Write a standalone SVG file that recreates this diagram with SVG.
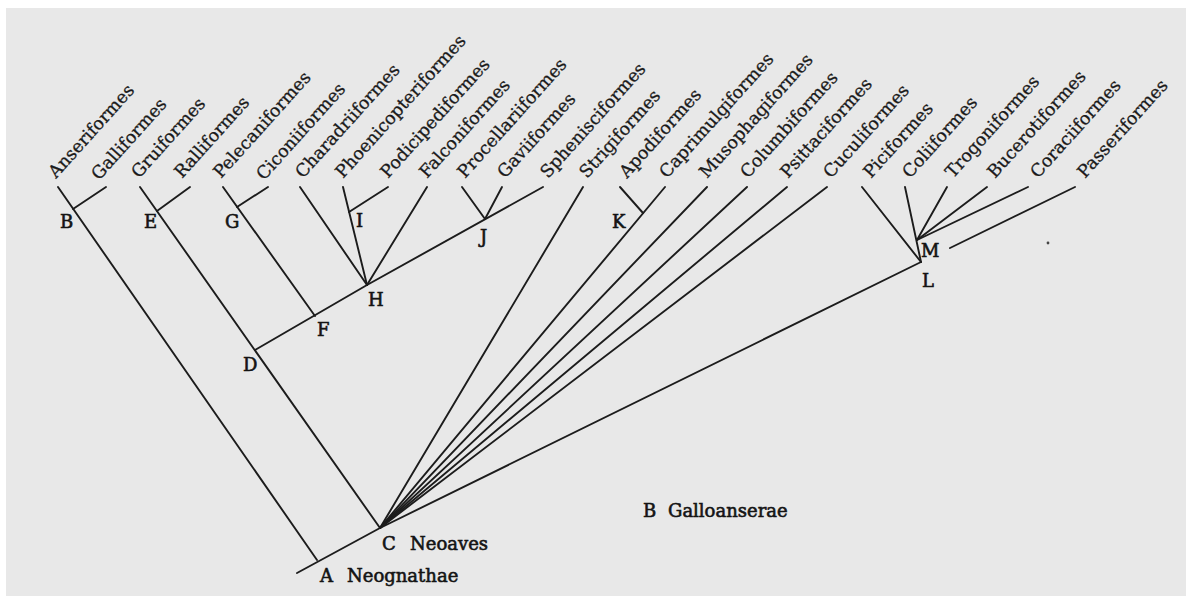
<svg xmlns="http://www.w3.org/2000/svg" width="1198" height="597" viewBox="0 0 1198 597">
<style>
.bg{fill:#e8e8e8}
.ln{stroke:#1c1c1c;stroke-width:1.9;fill:none;stroke-linecap:round}
.tx{font-family:"DejaVu Serif","Liberation Serif",serif;font-size:17.5px;fill:#1a1a1a;stroke:#1a1a1a;stroke-width:0.3}
.nd{font-family:"DejaVu Serif","Liberation Serif",serif;font-size:18px;fill:#141414;stroke:#141414;stroke-width:0.6}
</style>
<rect width="1198" height="597" fill="#ffffff"/>
<rect class="bg" x="6" y="8" width="1180" height="588"/>
<g id="connectors">
<line class="ln" x1="58" y1="187" x2="317" y2="560"/>
<line class="ln" x1="106" y1="187" x2="73" y2="209"/>
<line class="ln" x1="140" y1="187" x2="380" y2="528"/>
<line class="ln" x1="190" y1="187" x2="157" y2="211"/>
<line class="ln" x1="223" y1="187" x2="315" y2="316"/>
<line class="ln" x1="268" y1="187" x2="237" y2="207"/>
<line class="ln" x1="255" y1="350" x2="367" y2="285"/>
<line class="ln" x1="300" y1="187" x2="367" y2="285"/>
<line class="ln" x1="343" y1="187" x2="367" y2="285"/>
<line class="ln" x1="388" y1="187" x2="349" y2="212"/>
<line class="ln" x1="427" y1="187" x2="367" y2="285"/>
<line class="ln" x1="367" y1="285" x2="543" y2="187"/>
<line class="ln" x1="462" y1="187" x2="485" y2="219"/>
<line class="ln" x1="502" y1="187" x2="485" y2="219"/>
<line class="ln" x1="583" y1="187" x2="380" y2="528"/>
<line class="ln" x1="620" y1="187" x2="643" y2="213"/>
<line class="ln" x1="665" y1="187" x2="380" y2="528"/>
<line class="ln" x1="707" y1="187" x2="380" y2="528"/>
<line class="ln" x1="747" y1="187" x2="380" y2="528"/>
<line class="ln" x1="787" y1="187" x2="380" y2="528"/>
<line class="ln" x1="827" y1="187" x2="380" y2="528"/>
<line class="ln" x1="921" y1="262" x2="380" y2="528"/>
<line class="ln" x1="862" y1="187" x2="921" y2="262"/>
<line class="ln" x1="905" y1="187" x2="921" y2="262"/>
<line class="ln" x1="947" y1="187" x2="917" y2="240"/>
<line class="ln" x1="987" y1="187" x2="917" y2="240"/>
<line class="ln" x1="1028" y1="187" x2="917" y2="240"/>
<line class="ln" x1="1075" y1="187" x2="950" y2="248"/>
<line class="ln" x1="297" y1="573" x2="380" y2="528"/>
<circle cx="1048" cy="243" r="1.4" fill="#444"/>
</g>
<g id="taxa">
<g id="t-anseriformes"><text class="tx" transform="translate(56,179) rotate(-48)">Anseriformes</text></g>
<g id="t-galliformes"><text class="tx" transform="translate(99,181) rotate(-48)">Galliformes</text></g>
<g id="t-gruiformes"><text class="tx" transform="translate(139,179) rotate(-48)">Gruiformes</text></g>
<g id="t-ralliformes"><text class="tx" transform="translate(182,179) rotate(-48)">Ralliformes</text></g>
<g id="t-pelecaniformes"><text class="tx" transform="translate(221,179) rotate(-48)">Pelecaniformes</text></g>
<g id="t-ciconiiformes"><text class="tx" transform="translate(264,181) rotate(-48)">Ciconiiformes</text></g>
<g id="t-charadriiformes"><text class="tx" transform="translate(303,179) rotate(-48)">Charadriiformes</text></g>
<g id="t-phoenicopteriformes"><text class="tx" transform="translate(343,179) rotate(-48)">Phoenicopteriformes</text></g>
<g id="t-podicipediformes"><text class="tx" transform="translate(388,179) rotate(-48)">Podicipediformes</text></g>
<g id="t-falconiformes"><text class="tx" transform="translate(427,179) rotate(-48)">Falconiformes</text></g>
<g id="t-procellariiformes"><text class="tx" transform="translate(465,179) rotate(-48)">Procellariiformes</text></g>
<g id="t-gaviiformes"><text class="tx" transform="translate(505,179) rotate(-48)">Gaviiformes</text></g>
<g id="t-sphenisciformes"><text class="tx" transform="translate(548,179) rotate(-48)">Sphenisciformes</text></g>
<g id="t-strigiformes"><text class="tx" transform="translate(587,179) rotate(-48)">Strigiformes</text></g>
<g id="t-apodiformes"><text class="tx" transform="translate(627,179) rotate(-48)">Apodiformes</text></g>
<g id="t-caprimulgiformes"><text class="tx" transform="translate(667,179) rotate(-48)">Caprimulgiformes</text></g>
<g id="t-musophagiformes"><text class="tx" transform="translate(707,179) rotate(-48)">Musophagiformes</text></g>
<g id="t-columbiformes"><text class="tx" transform="translate(748,179) rotate(-48)">Columbiformes</text></g>
<g id="t-psittaciformes"><text class="tx" transform="translate(788,179) rotate(-48)">Psittaciformes</text></g>
<g id="t-cuculiformes"><text class="tx" transform="translate(831,179) rotate(-48)">Cuculiformes</text></g>
<g id="t-piciformes"><text class="tx" transform="translate(871,179) rotate(-48)">Piciformes</text></g>
<g id="t-coliiformes"><text class="tx" transform="translate(910,179) rotate(-48)">Coliiformes</text></g>
<g id="t-trogoniformes"><text class="tx" transform="translate(953,179) rotate(-48)">Trogoniformes</text></g>
<g id="t-bucerotiformes"><text class="tx" transform="translate(995,179) rotate(-48)">Bucerotiformes</text></g>
<g id="t-coraciiformes"><text class="tx" transform="translate(1038,179) rotate(-48)">Coraciiformes</text></g>
<g id="t-passeriformes"><text class="tx" transform="translate(1085,179) rotate(-48)">Passeriformes</text></g>
</g>
<g id="nodes">
<g id="n-B"><text class="nd" x="60" y="228">B</text></g>
<g id="n-E"><text class="nd" x="144" y="228">E</text></g>
<g id="n-G"><text class="nd" x="225" y="228">G</text></g>
<g id="n-I"><text class="nd" x="356" y="227">I</text></g>
<g id="n-J"><text class="nd" x="480" y="243">J</text></g>
<g id="n-K"><text class="nd" x="612" y="228">K</text></g>
<g id="n-H"><text class="nd" x="368" y="306">H</text></g>
<g id="n-F"><text class="nd" x="317" y="336">F</text></g>
<g id="n-D"><text class="nd" x="243" y="371">D</text></g>
<g id="n-M"><text class="nd" x="921" y="257">M</text></g>
<g id="n-L"><text class="nd" x="922" y="287">L</text></g>
<g id="n-C"><text class="nd" x="382" y="550">C</text><text class="nd" x="410" y="550">Neoaves</text></g>
<g id="n-A"><text class="nd" x="320" y="582">A</text><text class="nd" x="347" y="582">Neognathae</text></g>
<g id="n-Bg"><text class="nd" x="643" y="517">B</text><text class="nd" x="668" y="517">Galloanserae</text></g>
</g>
</svg>
